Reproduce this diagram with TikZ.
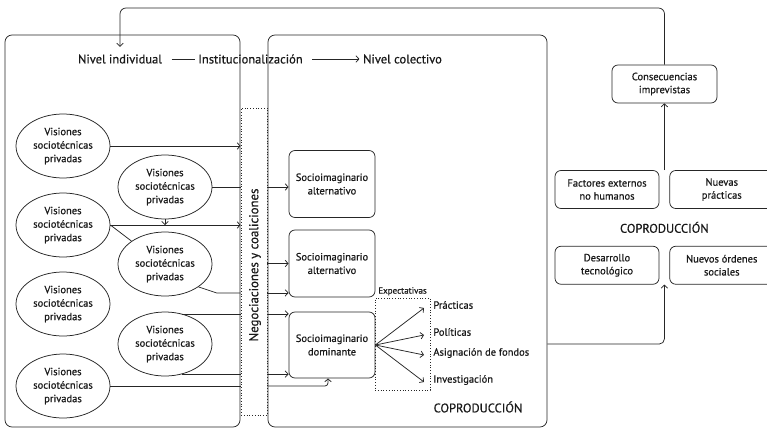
\documentclass[tikz,border=0pt]{standalone}
\usepackage{fontspec}
\setmainfont{PT Sans}[FakeBold=0.6]
\usetikzlibrary{
positioning,%
calc,%
shapes.geometric,%
arrows.meta
}
\tikzset{
    panel/.style={draw, rounded corners=7pt, minimum width=235pt, minimum height=392pt},
    vision/.style={draw, ellipse, fill=white, minimum width=94pt, minimum height=64pt, inner sep=0pt, align=center, font=\fontsize{10.5}{13.5}\selectfont},
    simag/.style={draw, rounded corners=6pt, minimum width=86pt, minimum height=67pt, inner sep=1pt, align=center, font=\fontsize{10.5}{13.5}\selectfont},
    cbox/.style={draw, rounded corners=6pt, minimum width=104pt, minimum height=38pt, inner sep=1pt, align=center, font=\fontsize{10.5}{13}\selectfont},
    negcol/.style={draw, dotted, minimum width=26pt, minimum height=307pt},
    expbox/.style={draw, dotted, minimum width=55pt, minimum height=92pt},
    level/.style={font=\fontsize{12.5}{14}\selectfont},
    expect/.style={anchor=west, inner sep=2pt, font=\fontsize{10.5}{12}\selectfont},
    coprod/.style={font=\fontsize{12.5}{14}\selectfont},
    flow/.style={-{Straight Barb[length=3pt,width=6.5pt]}}
}

\begin{document}
\begin{tikzpicture}[x=1pt, y=-1pt, line width=0.75pt, draw=black!85, text=black!90]
            \useasboundingbox (0,0) rectangle (767,428);
            \clip (0,0) rectangle (767,428);
            % ---- panels
            \node[panel] (indiv) at (122.5,231) {};
            \node[panel, minimum width=279pt] (colect) at (407.5,231) {};
            \node[negcol] (neg) at (254,261.5) {};
            \node[rotate=90, font=\fontsize{12.8}{14}\selectfont] (neglab) at (255,265) {Negociaciones y coaliciones};
            \node[level] (nivind) at (120,59) {Nivel individual};
            \node[level] (inst) at (250.5,59) {Institucionalización};
            \node[level] (nivcol) at (402.5,59) {Nivel colectivo};
            \draw ([xshift=6pt]nivind.east) -- (inst.west);
            \draw[flow] ([xshift=6pt]inst.east) -- (nivcol.west);
            % ---- visiones
            \node[vision] (v1) at (63,146) {Visiones\\sociotécnicas\\privadas};
            \node[vision] (v2) at (165,187) {Visiones\\sociotécnicas\\privadas};
            \node[vision] (v3) at (63,225) {Visiones\\sociotécnicas\\privadas};
            \node[vision] (v4) at (165,264) {Visiones\\sociotécnicas\\privadas};
            \node[vision] (v5) at (63,304) {Visiones\\sociotécnicas\\privadas};
            \node[vision] (v6) at (165,344) {Visiones\\sociotécnicas\\privadas};
            \node[vision] (v7) at (63,386) {Visiones\\sociotécnicas\\privadas};
            % ---- socioimaginarios
            \node[simag] (alt1) at (332,184) {Socioimaginario\\alternativo};
            \node[simag] (alt2) at (332,263.5) {Socioimaginario\\alternativo};
            \node[simag, minimum height=66pt] (dom) at (332,345) {Socioimaginario\\dominante};
            \node[expbox] (exp) at (402.5,344) {};
            \node[above=-1.5pt of exp, font=\fontsize{9}{10}\selectfont] (explab) {Expectativas};
            \node[expect] (prac) at (431,305) {Prácticas};
            \node[expect] (pol) at (431,332) {Políticas};
            \node[expect] (asig) at (431,353) {Asignación de fondos};
            \node[expect] (inv) at (431,380) {Investigación};
            \node[coprod] (cop1) at (478,407) {COPRODUCCIÓN};
            % ---- right side
            \node[cbox, minimum width=105pt] (consec) at (664.5,84) {Consecuencias\\imprevistas};
            \node[cbox] (factores) at (607,189.5) {Factores externos\\no humanos};
            \node[cbox, right=10pt of factores] (nuevas) {Nuevas\\prácticas};
            \node[cbox, below=37pt of factores] (desarrollo) {Desarrollo\\tecnológico};
            \node[cbox, right=10pt of desarrollo] (ordenes) {Nuevos órdenes\\sociales};
            \node[coprod] (cop2) at ($(factores.south east)!0.5!(ordenes.north west)$) {COPRODUCCIÓN};
            \coordinate (gaptop) at ($(factores.north east)!0.5!(nuevas.north west)$);
            \coordinate (gapbot) at ($(desarrollo.south east)!0.5!(ordenes.south west)$);
            \coordinate (outlet) at ([yshift=-113pt]colect.east);
            \coordinate (loop) at (664.5,8);
            % ---- connectors
            \draw[flow] (v1.east) -- (v1.east -| neg.west);
            \draw (v2.east) -- (v2.east -| neg.west);
            \draw[flow] (v2.east -| neg.east) -- (v2.east -| alt1.west);
            \draw[flow] (v3.east) -- (v3.east -| neg.west);
            \draw[flow] (v2.south) -- (v2.south |- v3.east);
            \draw (v3.east) -- (v4.north west);
            \draw (v4.south east) -- ++(18pt,-6pt) coordinate (v4out) -- (v4out -| neg.west);
            \draw[flow] (v4out -| neg.east) -- (v4out -| alt2.west);
            \draw[flow] (neg.east |- alt2.west) -- (alt2.west);
            \draw (v6.60) -- (v6.60 -| neg.west);
            \draw[flow] (v6.60 -| neg.east) -- (v6.60 -| dom.west);
            \draw (v6.-60) -- (v6.-60 -| neg.west);
            \draw[flow] (v6.-60 -| neg.east) -- (v6.-60 -| dom.west);
            \coordinate (domin) at ([xshift=-4pt]dom.south);
            \draw (v7.east) -- (v7.east -| neg.west);
            \draw[flow, rounded corners=3pt] (v7.east -| neg.east) -- (v7.east -| domin) -- (domin);
            % ----
            \draw[flow] (dom.east) -- ([xshift=-7pt,yshift=-3pt]prac.west);
            \draw[flow] (dom.east) -- ([xshift=-7pt,yshift=-3pt]pol.west);
            \draw[flow] (dom.east) -- ([xshift=-7pt,yshift=-2pt]asig.west);
            \draw[flow] (dom.east) -- ([xshift=-7pt,yshift=-2pt]inv.west);
            % ----
            \draw[flow] (gaptop) -- (gaptop |- consec.south);
            \draw[flow, rounded corners=5pt] (outlet) -- (outlet -| gapbot) -- (gapbot);
            \draw[flow, rounded corners=6pt] (consec.north) -- (loop) -| ([yshift=4pt]nivind.north);
\end{tikzpicture}
\end{document}
